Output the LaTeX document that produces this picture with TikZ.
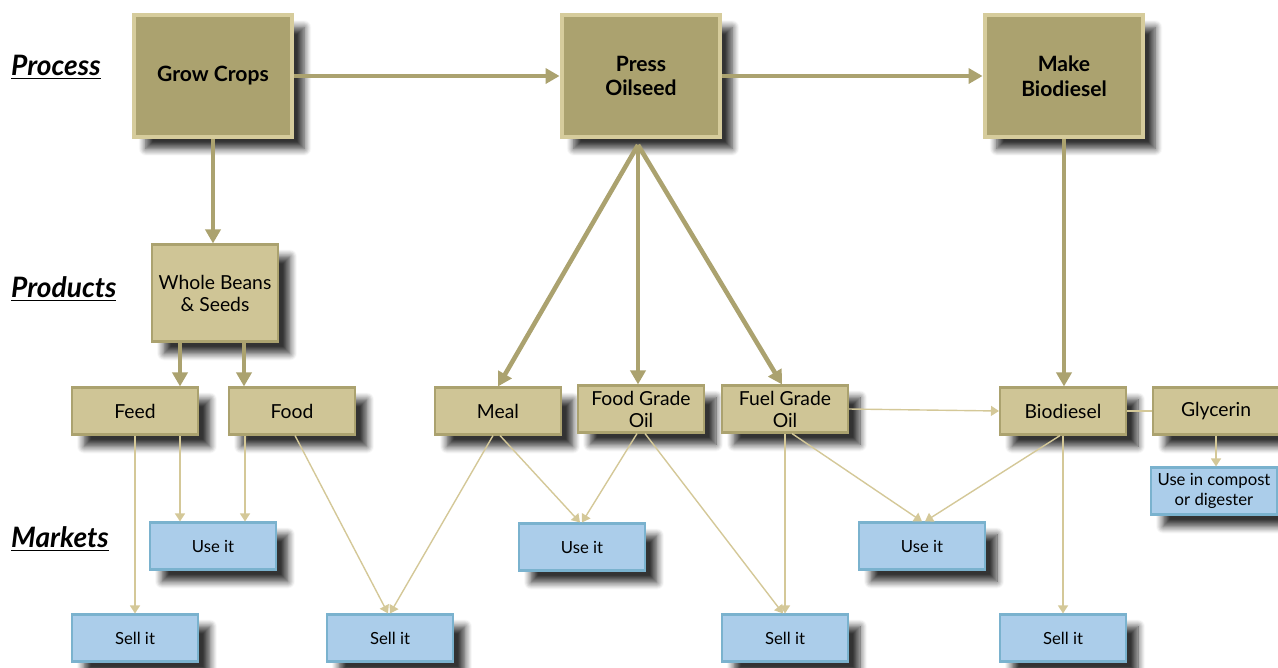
\documentclass[tikz,border=0pt]{standalone}
\usepackage{fontspec}
\setmainfont{Lato}
\usetikzlibrary{arrows.meta,shadows.blur,calc}

\definecolor{olivefill}{RGB}{171,162,111}
\definecolor{oliveedge}{RGB}{214,204,156}
\definecolor{tanfill}{RGB}{207,197,150}
\definecolor{tanline}{RGB}{212,200,152}
\definecolor{bluefill}{RGB}{171,205,234}
\definecolor{blueedge}{RGB}{122,178,206}

\begin{document}
\begin{tikzpicture}[
  x=0.02cm, y=-0.02cm,
  shade/.style={blur shadow={shadow xshift=0.24cm, shadow yshift=-0.24cm,
      shadow blur radius=0.14cm, shadow opacity=80, shadow blur steps=8}},
  processbox/.style={shade, draw=oliveedge, fill=olivefill, line width=2.5pt,
      minimum width=3.17cm, minimum height=2.43cm, align=center,
      font=\fontsize{12}{14}\selectfont\bfseries},
  productbox/.style={shade, draw=olivefill, fill=tanfill, line width=1.2pt,
      minimum width=2.52cm, minimum height=0.94cm, inner sep=1pt, align=center,
      font=\fontsize{11}{12.5}\selectfont},
  marketbox/.style={shade, draw=blueedge, fill=bluefill, line width=1.2pt,
      minimum width=2.52cm, minimum height=0.94cm, inner sep=1pt, align=center,
      font=\fontsize{9.5}{11}\selectfont},
  heading/.style={anchor=west, font=\fontsize{16}{18}\selectfont\bfseries\itshape},
  thickarrow/.style={draw=olivefill, line width=2.6pt,
      -{Triangle[length=0.28cm, width=0.3cm]}},
  thinarrow/.style={draw=tanline, line width=0.8pt,
      -{Triangle[length=0.16cm, width=0.2cm]}},
]
\useasboundingbox (0,0) rectangle (1278,667);

\node[heading] (lproc) at (5,67) {\underline{Process}};
\node[heading] (lprod) at (5,289) {\underline{Products}};
\node[heading] (lmark) at (5,539) {\underline{Markets}};

\node[processbox] (grow)  at (213,76)  {Grow Crops};
\node[processbox] (press) at (641,76)  {Press\\Oilseed};
\node[processbox] (make)  at (1064,76) {Make\\Biodiesel};

\node[productbox, minimum height=1.94cm] (beans) at (215,293) {Whole Beans\\\& Seeds};
\node[productbox] (feed) at (135,411)  {Feed};
\node[productbox] (food) at (292,411)  {Food};
\node[productbox] (meal) at (498,411)  {Meal};
\node[productbox] (fgo)  at (641,409)  {Food Grade\\Oil};
\node[productbox] (fuel) at (785,409)  {Fuel Grade\\Oil};
\node[productbox] (bio)  at (1063,411) {Biodiesel};
\node[productbox] (gly)  at (1216,411) {Glycerin};

\node[marketbox] (compost) at (1214,491) {Use in compost\\or digester};
\node[marketbox] (use1)  at (213,546) {Use it};
\node[marketbox] (use2)  at (582,547) {Use it};
\node[marketbox] (use3)  at (922,546) {Use it};
\node[marketbox] (sell1) at (135,638) {Sell it};
\node[marketbox] (sell2) at (390,638) {Sell it};
\node[marketbox] (sell3) at (785,638) {Sell it};
\node[marketbox] (sell4) at (1063,638) {Sell it};

\draw[thickarrow] (grow) -- (press);
\draw[thickarrow] (press) -- (make);
\draw[thickarrow] (grow.south) -- (grow.south |- beans.north);
\draw[thickarrow] ([xshift=-0.7cm]beans.south) -- ([xshift=-0.7cm]beans.south |- feed.north);
\draw[thickarrow] ([xshift=0.58cm]beans.south) -- ([xshift=0.58cm]beans.south |- food.north);
\coordinate (fork) at ($(press.south)+(-3,6)$);
\draw[thickarrow] (fork) -- (meal.north);
\draw[thickarrow] (fork) -- (fork |- fgo.north);
\draw[thickarrow] (fork) -- ([xshift=-0.06cm]fuel.north);
\draw[thickarrow] (make.south) -- (make.south |- bio.north);

\draw[thinarrow] (feed.south) -- (sell1.north);
\draw[thinarrow] ([xshift=0.9cm]feed.south) -- ([xshift=0.9cm]feed.south |- use1.north);
\draw[thinarrow] ([xshift=-0.94cm]food.south) -- ([xshift=-0.94cm]food.south |- use1.north);
\draw[thinarrow] ([xshift=0.06cm]food.south) -- ([xshift=-0.04cm]sell2.north);
\draw[thinarrow] ([xshift=-0.1cm]meal.south) -- (sell2.north);
\draw[thinarrow] ([xshift=0.04cm]meal.south) -- ([xshift=-0.04cm]use2.north);
\draw[thinarrow] ([xshift=-0.08cm]fgo.south) -- (use2.north);
\draw[thinarrow] ([xshift=0.08cm]fgo.south) -- ([xshift=-0.04cm]sell3.north);
\draw[thinarrow] (fuel.south) -- (sell3.north);
\draw[thinarrow] ([xshift=0.14cm]fuel.south) -- (use3.north);
\draw[thinarrow] ([xshift=-0.06cm]bio.south) -- ([xshift=0.06cm]use3.north);
\draw[thinarrow] (bio.south) -- (sell4.north);
\draw[thinarrow] (fuel.east) -- (bio.west);
\draw[draw=tanline, line width=0.8pt] (bio.east) -- (gly.west);
\draw[thinarrow] (gly.south) -- (gly.south |- compost.north);
\end{tikzpicture}
\end{document}
